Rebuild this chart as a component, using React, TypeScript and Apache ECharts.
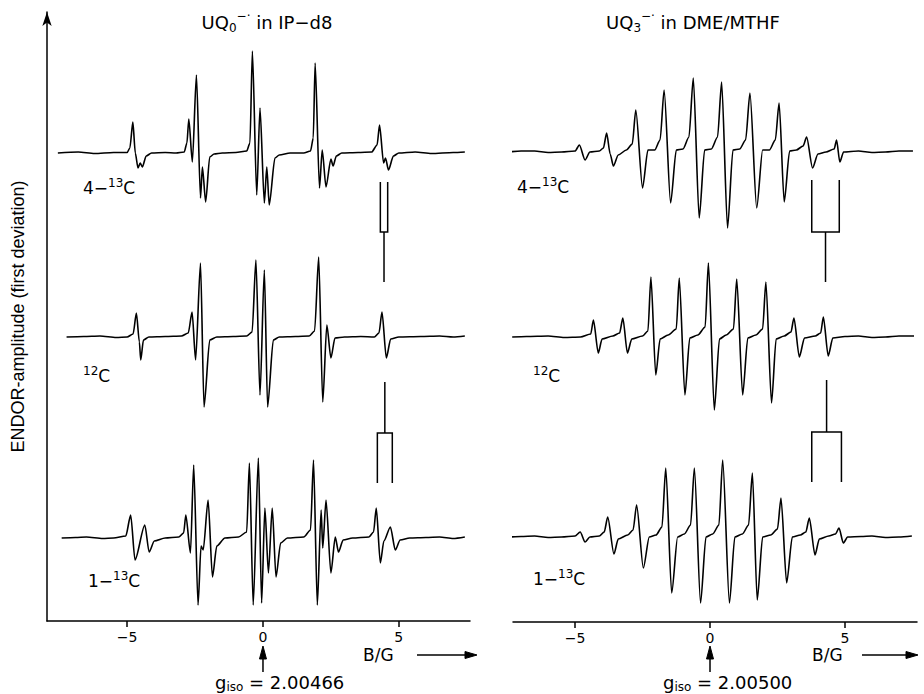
import React, { useEffect, useRef } from 'react';
import * as echarts from 'echarts';

type Pt = [number, number];

// x axis (B/G) tick values
const xTicks = [-5, 0, 5];

// ---- UQ0 in IP-d8 : [B/G, ENDOR amplitude (arb. units)] ----
const uq0_4_13C: Pt[] = [
  [-7.55, 0], [-6.8, 0.1], [-6.2, -0.05], [-5.5, 0.05], [-5.0, 0.05], [-4.9, 0.5], [-4.79, 3.1], [-4.7, 0],
  [-4.6, -1.5], [-4.52, -1.0], [-4.44, -1.4], [-4.3, -0.3], [-4.1, 0], [-3.6, 0.05], [-3.2, 0], [-2.9, 0.1],
  [-2.8, 1.0], [-2.73, 3.4], [-2.6, -0.9], [-2.45, 7.8], [-2.3, -4.5], [-2.23, -1.4], [-2.11, -4.9],
  [-1.96, -0.4], [-1.8, -0.1], [-1.5, 0], [-1.0, 0.05], [-0.6, 0.2], [-0.48, 1.0], [-0.39, 10.2],
  [-0.23, -4.2], [-0.11, 4.5], [0.05, -5.0], [0.14, -1.4], [0.23, -5.2], [0.44, -0.5], [0.6, -0.2],
  [1.0, 0], [1.5, 0], [1.75, 0.2], [1.85, 1.5], [1.92, 9.0], [2.08, -3.5], [2.18, 0.3], [2.32, -3.4],
  [2.5, -0.6], [2.58, -1.3], [2.7, -0.3], [2.9, 0], [3.5, 0.05], [4.0, 0.1], [4.2, 0.8], [4.29, 2.8],
  [4.44, -1.0], [4.51, -0.5], [4.62, -1.7], [4.8, -0.3], [5.0, 0], [5.6, 0.1], [6.2, -0.05], [7.0, 0.05], [7.43, 0.1],
];
const uq0_12C: Pt[] = [
  [-7.23, 0], [-6.6, 0.05], [-6.0, 0.1], [-5.4, -0.05], [-5.0, 0], [-4.78, 0.3], [-4.66, 2.4], [-4.55, -0.5],
  [-4.5, -2.3], [-4.4, -0.3], [-4.2, 0], [-3.6, 0.05], [-3.0, 0.1], [-2.75, 0.4], [-2.61, 2.5], [-2.48, -2.3],
  [-2.3, 7.4], [-2.17, -7.0], [-1.96, -0.3], [-1.7, 0], [-1.1, 0.05], [-0.6, 0.1], [-0.4, 0.5], [-0.26, 7.7],
  [-0.11, -5.8], [0.05, 6.7], [0.17, -7.0], [0.38, -0.3], [0.6, 0], [1.2, 0.05], [1.7, 0.1], [1.9, 0.6],
  [2.05, 8.0], [2.2, -6.5], [2.35, 1.2], [2.5, -2.1], [2.65, -0.1], [3.0, 0], [3.6, 0.05], [4.1, 0],
  [4.27, 0.4], [4.38, 2.5], [4.54, -2.1], [4.7, -0.2], [5.0, 0], [5.8, 0.05], [6.5, 0.1], [7.0, 0], [7.43, 0.1],
];
const uq0_1_13C: Pt[] = [
  [-7.41, 0], [-6.9, 0.05], [-6.5, 0.1], [-5.9, -0.05], [-5.5, 0], [-5.05, 0.2], [-4.87, 2.3], [-4.71, -2.2],
  [-4.35, 1.3], [-4.19, -1.4], [-4.0, -0.3], [-3.6, 0], [-3.1, 0.1], [-2.92, 0.5], [-2.84, 2.3], [-2.67, -1.5],
  [-2.55, 7.3], [-2.39, -6.7], [-2.28, -0.8], [-2.2, -1.2], [-2.02, 3.8], [-1.86, -3.9], [-1.7, -0.8],
  [-1.4, 0], [-0.9, 0.1], [-0.6, 0.6], [-0.5, 7.5], [-0.36, -6.7], [-0.17, 8.0], [-0.05, -6.5], [0.07, 3.0],
  [0.2, -3.5], [0.34, 3.0], [0.48, -3.9], [0.65, -0.5], [0.9, 0], [1.5, 0.1], [1.75, 0.8], [1.86, 7.8],
  [2.0, -6.7], [2.14, 2.8], [2.2, -1.0], [2.32, 3.8], [2.5, -3.5], [2.66, 0.1], [2.78, -1.4], [2.95, -0.2],
  [3.3, 0], [3.9, 0.1], [4.07, 0.6], [4.17, 3.0], [4.32, -2.5], [4.45, -0.3], [4.69, 1.1], [4.87, -1.2],
  [5.05, -0.2], [5.4, 0], [6.0, 0.05], [6.5, 0.1], [7.0, -0.05], [7.43, 0.1],
];

// ---- UQ3 in DME/MTHF ----
const uq3_4_13C: Pt[] = [
  [-7.48, 0], [-7.0, 0.1], [-6.5, 0.1], [-6.0, -0.05], [-5.5, 0], [-5.0, 0.1], [-4.84, 0.7], [-4.63, -0.8],
  [-4.45, 0], [-4.1, 0.1], [-3.95, 0.4], [-3.83, 1.9], [-3.7, -0.2], [-3.58, -1.4], [-3.4, -0.3], [-3.1, 0.2],
  [-2.88, 0.8], [-2.75, 4.2], [-2.5, -3.6], [-2.3, 0.2], [-2.05, 0.2], [-1.85, 1.2], [-1.7, 6.2], [-1.46, -5.1],
  [-1.25, 0.2], [-1.0, 0.3], [-0.78, 1.5], [-0.62, 7.4], [-0.4, -6.6], [-0.2, 0.2], [0.05, 0.3], [0.28, 1.5],
  [0.43, 7.0], [0.65, -7.6], [0.85, 0.2], [1.1, 0.3], [1.32, 1.2], [1.48, 5.9], [1.73, -5.6], [1.95, 0.2],
  [2.2, 0.2], [2.42, 1.2], [2.56, 4.9], [2.75, -5.0], [2.95, 0.1], [3.2, 0.2], [3.45, 0.6], [3.58, 1.5],
  [3.8, -1.6], [4.0, -0.2], [4.3, 0], [4.6, 0.3], [4.69, 1.2], [4.81, -1.0], [4.95, 0], [5.5, 0.1],
  [6.0, -0.05], [6.5, 0], [7.0, 0.1], [7.52, 0.1],
];
const uq3_12C: Pt[] = [
  [-7.33, 0], [-6.8, 0.05], [-6.0, 0.1], [-5.4, -0.05], [-4.8, 0], [-4.42, 0.3], [-4.32, 1.7], [-4.14, -1.6],
  [-4.0, -0.2], [-3.6, 0.1], [-3.35, 0.4], [-3.23, 1.9], [-3.06, -1.6], [-2.9, -0.2], [-2.5, 0.1], [-2.3, 0.6],
  [-2.19, 6.0], [-2.01, -3.8], [-1.85, -0.2], [-1.55, 0.2], [-1.25, 0.8], [-1.14, 5.9], [-0.93, -5.8],
  [-0.75, -0.1], [-0.45, 0.2], [-0.18, 1.0], [-0.06, 7.4], [0.16, -7.3], [0.35, -0.2], [0.6, 0.2], [0.87, 0.8],
  [0.99, 5.8], [1.21, -5.8], [1.4, -0.1], [1.7, 0.2], [1.95, 0.8], [2.07, 5.5], [2.28, -6.6], [2.45, -0.2],
  [2.75, 0.1], [3.0, 0.5], [3.11, 1.9], [3.31, -2.0], [3.5, -0.1], [3.9, 0.1], [4.1, 0.4], [4.2, 2.0],
  [4.38, -1.9], [4.55, -0.1], [5.0, 0.05], [5.5, 0.1], [6.0, -0.05], [6.5, 0], [7.0, 0.1], [7.56, 0.1],
];
const uq3_1_13C: Pt[] = [
  [-7.41, 0], [-7.0, 0.05], [-6.5, 0.1], [-6.0, -0.05], [-5.5, 0], [-5.0, 0.1], [-4.81, 0.5], [-4.63, -0.5],
  [-4.45, 0], [-4.1, 0.1], [-3.92, 0.5], [-3.79, 2.0], [-3.56, -1.7], [-3.4, -0.2], [-3.05, 0.2], [-2.85, 0.7],
  [-2.72, 3.2], [-2.47, -3.1], [-2.25, 0], [-2.0, 0.2], [-1.78, 1.0], [-1.64, 6.9], [-1.42, -5.6], [-1.2, 0],
  [-0.95, 0.3], [-0.72, 1.2], [-0.58, 6.9], [-0.35, -6.6], [-0.15, 0], [0.1, 0.3], [0.33, 1.2], [0.47, 7.7],
  [0.72, -6.6], [0.92, 0], [1.2, 0.3], [1.43, 1.2], [1.57, 6.4], [1.75, -6.3], [1.95, 0], [2.25, 0.2],
  [2.5, 0.8], [2.63, 3.9], [2.84, -4.6], [3.05, 0], [3.35, 0.2], [3.55, 0.5], [3.68, 1.9], [3.89, -1.8],
  [4.05, -0.2], [4.4, 0.1], [4.65, 0.3], [4.78, 0.9], [4.94, -0.6], [5.1, 0], [5.6, 0.05], [6.0, 0.1],
  [6.5, -0.05], [7.0, 0], [7.48, 0.1],
];

// 13C doublet splittings shown by the stick diagrams (B/G of both legs)
const uq0Split4 = [4.32, 4.59];
const uq0Split1 = [4.21, 4.76];
const uq3Split4 = [3.77, 4.79];
const uq3Split1 = [3.77, 4.87];

// texts
const titles = ['{n|UQ}{b|0}{p|−·}{n| in IP−d8}', '{n|UQ}{b|3}{p|−·}{n| in DME/MTHF}'];
const traceLabels = ['{n|4−}{p|13}{n|C}', '{p|12}{n|C}', '{n|1−}{p|13}{n|C}'];
const gIsoValues = ['2.00466', '2.00500'];
const yAxisName = 'ENDOR-amplitude (first deviation)';
const xAxisName = 'B/G';

const FONT = 'DejaVu Sans, sans-serif';
const BLACK = '#000';

export default function App() {
  const ref = useRef<HTMLDivElement>(null);
  useEffect(() => {
    const chart = echarts.init(ref.current!, null, { renderer: 'svg' });

    const AXIS_TOP = 12;
    const panels = [
      { left: 47, width: 423, min: -7.95, max: 7.62, axisY: 621, baselines: [153, 337, 538],
        data: [uq0_4_13C, uq0_12C, uq0_1_13C], showY: true, titleX: 267,
        labelPos: [[83, 188], [83, 376], [88, 581]] },
      { left: 513, width: 404, min: -7.3, max: 7.67, axisY: 622, baselines: [152, 337, 537],
        data: [uq3_4_13C, uq3_12C, uq3_1_13C], showY: false, titleX: 693,
        labelPos: [[517, 187], [533, 376], [533, 579]] },
    ];
    const TRACE_UP = 11;
    const TRACE_DOWN = 8;
    const PX_PER_UNIT = 10;

    const grid: any[] = [];
    const xAxis: any[] = [];
    const yAxis: any[] = [];
    const series: any[] = [];

    panels.forEach((p, pi) => {
      grid.push({ left: p.left, width: p.width, top: AXIS_TOP, height: p.axisY - AXIS_TOP });
      xAxis.push({
        gridIndex: pi, type: 'value', min: p.min, max: p.max,
        axisLine: { show: true, onZero: false, lineStyle: { color: BLACK, width: 1.5 } },
        axisTick: { show: true, customValues: xTicks, inside: false, length: 6, lineStyle: { color: BLACK, width: 1.5 } },
        axisLabel: {
          show: true, customValues: xTicks, margin: 9, color: BLACK, fontSize: 14, fontFamily: FONT,
          formatter: (v: number) => (v < 0 ? '−' + Math.abs(v) : String(v)),
        },
        splitLine: { show: false },
      });
      yAxis.push({
        gridIndex: pi, type: 'value', min: 0, max: 1,
        axisLine: {
          show: p.showY, onZero: false, symbol: ['none', 'arrow'], symbolSize: [7, 14],
          lineStyle: { color: BLACK, width: 1.5 },
        },
        axisTick: { show: false }, axisLabel: { show: false }, splitLine: { show: false },
        name: p.showY ? yAxisName : '', nameLocation: 'middle', nameGap: 20, nameRotate: 90,
        nameTextStyle: { color: BLACK, fontSize: 18, fontFamily: 'Liberation Sans, Arial, sans-serif' },
      });
    });

    panels.forEach((p) => {
      p.data.forEach((d, ti) => {
        const gi = grid.length;
        grid.push({
          left: p.left, width: p.width,
          top: p.baselines[ti] - TRACE_UP * PX_PER_UNIT,
          height: (TRACE_UP + TRACE_DOWN) * PX_PER_UNIT,
        });
        xAxis.push({ gridIndex: gi, type: 'value', min: p.min, max: p.max, show: false });
        yAxis.push({ gridIndex: gi, type: 'value', min: -TRACE_DOWN, max: TRACE_UP, show: false });
        series.push({
          type: 'line', xAxisIndex: gi, yAxisIndex: gi, data: d, showSymbol: false, silent: true,
          smooth: 0.25, smoothMonotone: 'x',
          clip: false, lineStyle: { color: BLACK, width: 1.6 }, z: 3,
        });
      });
    });

    chart.setOption({
      animation: false,
      backgroundColor: '#fff',
      grid, xAxis, yAxis, series,
    });

    const px = (axis: number, v: number) => chart.convertToPixel({ xAxisIndex: axis }, v) as number;
    const stroke = { stroke: BLACK, lineWidth: 1.5, fill: null };
    const g: any[] = [];

    const bracket = (axis: number, legs: number[], yLegEnd: number, yBar: number, yStemEnd: number) => {
      const x1 = px(axis, legs[0]);
      const x2 = px(axis, legs[1]);
      const xc = px(axis, (legs[0] + legs[1]) / 2);
      g.push({ type: 'polyline', shape: { points: [[x1, yLegEnd], [x1, yBar], [x2, yBar], [x2, yLegEnd]] }, style: stroke });
      g.push({ type: 'line', shape: { x1: xc, y1: yBar, x2: xc, y2: yStemEnd }, style: stroke });
    };
    bracket(0, uq0Split4, 182, 232, 282);
    bracket(0, uq0Split1, 483, 433, 382);
    bracket(1, uq3Split4, 180, 232, 282);
    bracket(1, uq3Split1, 482, 432, 380);

    const richBase = {
      n: { fontSize: 18, fontFamily: FONT, fill: BLACK, lineHeight: 24 },
      b: { fontSize: 12, fontFamily: FONT, fill: BLACK, lineHeight: 13, verticalAlign: 'bottom' },
      p: { fontSize: 12, fontFamily: FONT, fill: BLACK, lineHeight: 13, verticalAlign: 'top' },
    };
    panels.forEach((p, i) => {
      g.push({
        type: 'text', x: p.titleX, y: 22,
        style: { text: titles[i], rich: richBase, align: 'center', verticalAlign: 'middle', textAlign: 'center', textVerticalAlign: 'middle' },
      });
    });

    const labRich = {
      n: { fontSize: 17, fontFamily: FONT, fill: BLACK, lineHeight: 22 },
      p: { fontSize: 12, fontFamily: FONT, fill: BLACK, lineHeight: 12, verticalAlign: 'top' },
    };
    panels.forEach((p) => {
      p.labelPos.forEach((pos, ti) => {
        g.push({
          type: 'text', x: pos[0], y: pos[1],
          style: { text: traceLabels[ti], rich: labRich, align: 'left', verticalAlign: 'middle', textAlign: 'left', textVerticalAlign: 'middle' },
        });
      });
    });

    // B/G labels with arrows, and g_iso markers at B = 0
    const bg = [
      { tx: 363, ax1: 417, ax2: 477 },
      { tx: 812, ax1: 862, ax2: 918 },
    ];
    const isoTextX = [215, 663];
    bg.forEach((b, i) => {
      g.push({
        type: 'text', x: b.tx, y: 655,
        style: { text: xAxisName, fontSize: 17, fontFamily: FONT, fill: BLACK, align: 'left', verticalAlign: 'middle', textAlign: 'left', textVerticalAlign: 'middle' },
      });
      g.push({ type: 'line', shape: { x1: b.ax1, y1: 655, x2: b.ax2 - 8, y2: 655 }, style: stroke });
      g.push({ type: 'polygon', shape: { points: [[b.ax2, 655], [b.ax2 - 12, 651.5], [b.ax2 - 12, 658.5]] }, style: { fill: BLACK, stroke: BLACK, lineWidth: 1 } });

      const x0 = px(i, 0);
      g.push({ type: 'line', shape: { x1: x0, y1: 672, x2: x0, y2: 656 }, style: stroke });
      g.push({ type: 'polygon', shape: { points: [[x0, 646], [x0 - 3.5, 659], [x0 + 3.5, 659]] }, style: { fill: BLACK, stroke: BLACK, lineWidth: 1 } });

      g.push({
        type: 'text', x: isoTextX[i], y: 682,
        style: {
          text: '{n|g}{b|iso}{n| = ' + gIsoValues[i] + '}',
          rich: {
            n: { fontSize: 18, fontFamily: FONT, fill: BLACK, lineHeight: 22 },
            b: { fontSize: 12, fontFamily: FONT, fill: BLACK, lineHeight: 12, verticalAlign: 'bottom' },
          },
          align: 'left', verticalAlign: 'middle', textAlign: 'left', textVerticalAlign: 'middle',
        },
      });
    });

    chart.setOption({ graphic: { elements: g } });

    return () => chart.dispose();
  }, []);
  return <div ref={ref} style={{ position: 'fixed', left: 0, top: 0, width: 924, height: 694, background: '#fff' }} />;
}
